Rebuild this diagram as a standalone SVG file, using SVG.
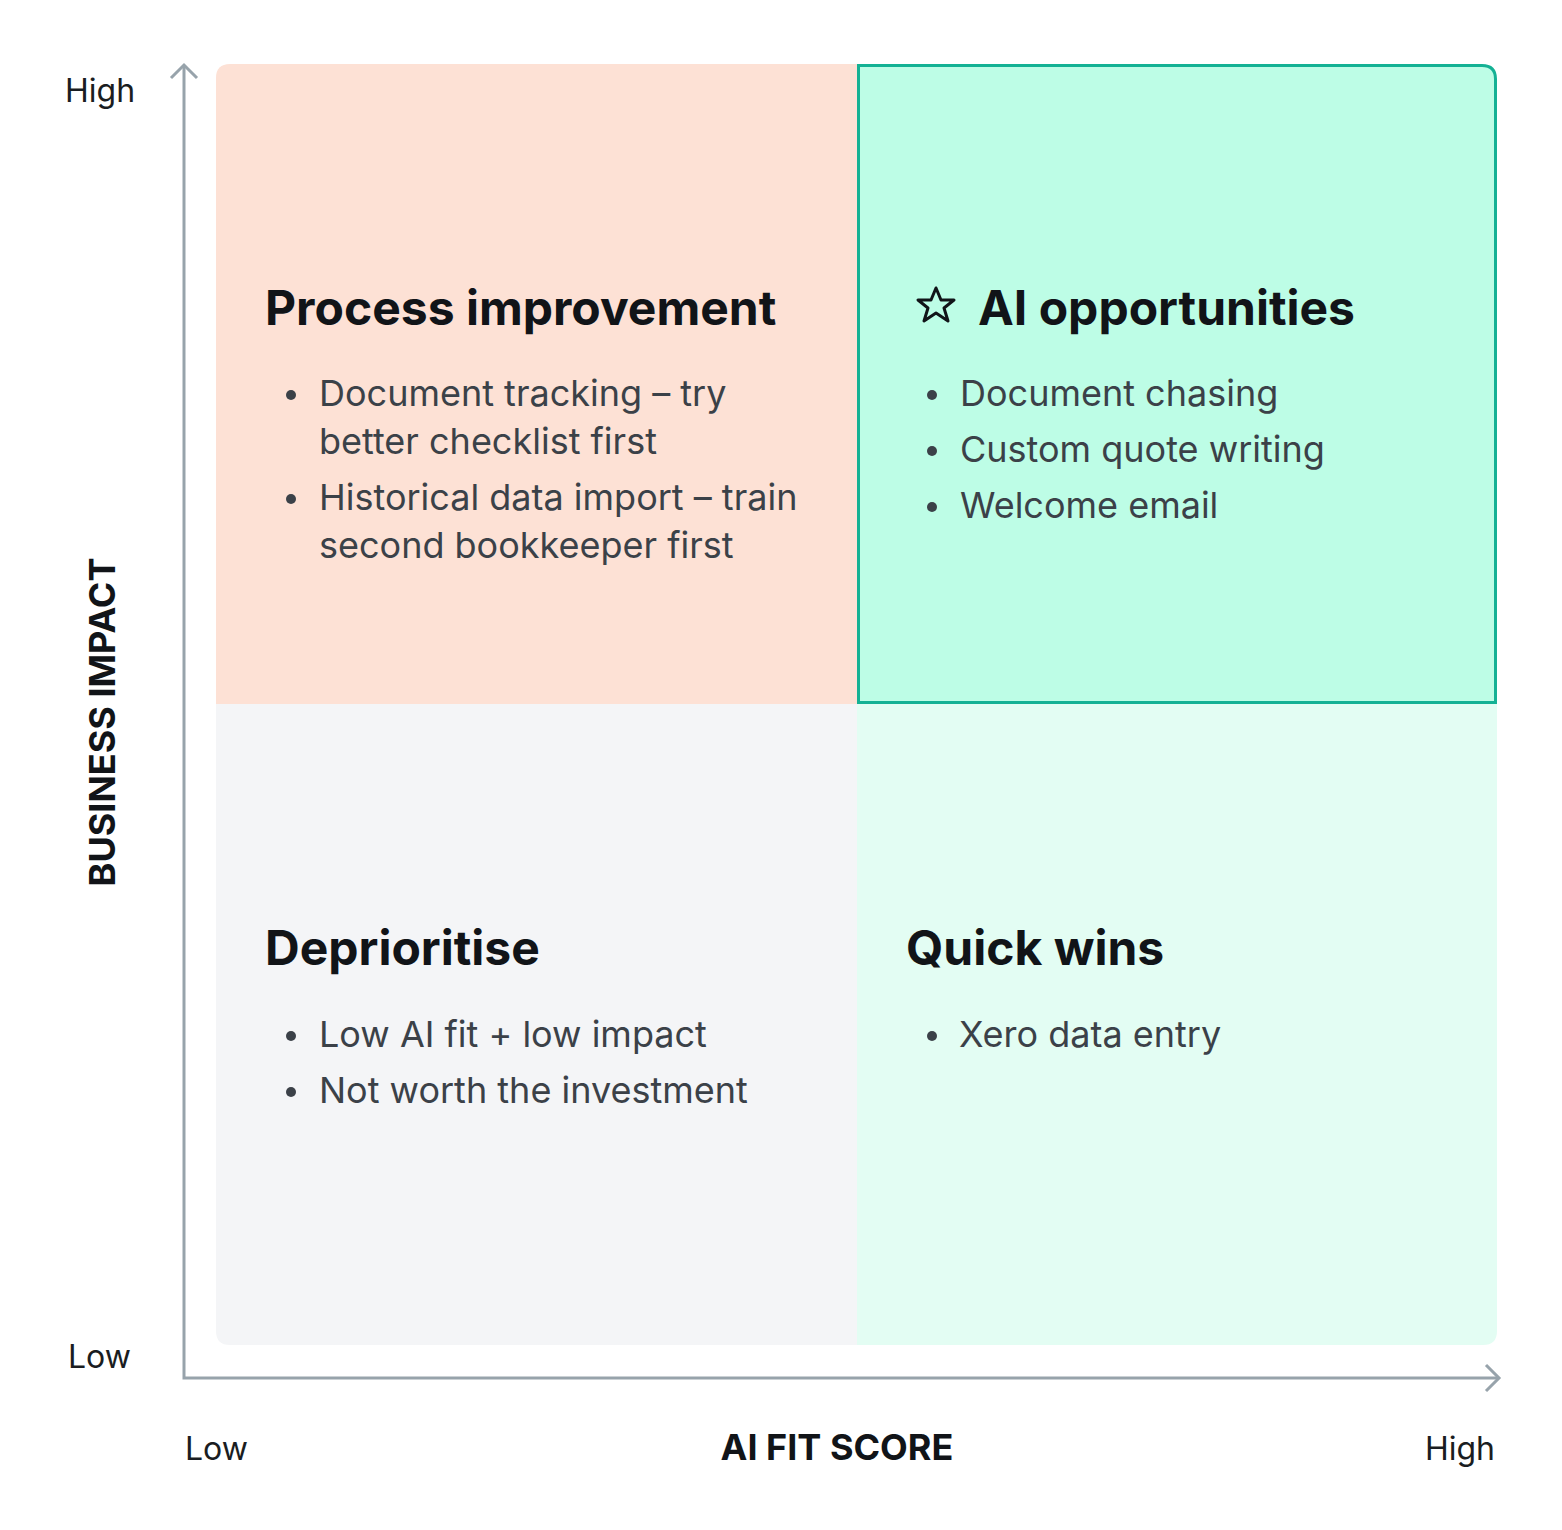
<svg xmlns="http://www.w3.org/2000/svg" width="1562" height="1530" viewBox="0 0 1562 1530">
<style>
.t{font-family:Inter,"Noto Sans",sans-serif;font-weight:700;font-size:48px;fill:#111418}
.b{font-family:Inter,"Noto Sans",sans-serif;font-size:36px;fill:#3b4148}
.a{font-family:Inter,"Noto Sans",sans-serif;font-size:32px;fill:#1a1d21}
.ab{font-family:Inter,"Noto Sans",sans-serif;font-size:36px;font-weight:700;fill:#111418}
.dot{fill:#3b4148}
.ax{stroke:#97a3ab;stroke-width:3;fill:none}
</style>
<rect width="1562" height="1530" fill="#fff"/>
<g id="q-process">
<path d="M230 64H857V704H216V78Q216 64 230 64Z" fill="#fde1d5"/>
<text class="t" x="265" y="325">Process improvement</text>
<circle class="dot" cx="291" cy="395" r="5"/><text class="b" x="319" y="406">Document tracking – try</text>
<text class="b" x="319" y="454">better checklist first</text>
<circle class="dot" cx="291" cy="499" r="5"/><text class="b" x="319" y="510">Historical data import – train</text>
<text class="b" x="319" y="558">second bookkeeper first</text>
</g>
<g id="q-ai">
<path d="M858.5 65.5H1482Q1495.5 65.5 1495.5 79V702.5H858.5Z" fill="#bdfde6" stroke="#14b194" stroke-width="3"/>
<path d="M936 288L941 300L954 300L944 308L948 321L936 313L924 321L928 308L918 300L931 300Z" fill="none" stroke="#111418" stroke-width="3" stroke-linejoin="round"/>
<text class="t" x="978" y="325">AI opportunities</text>
<circle class="dot" cx="932" cy="395" r="5"/><text class="b" x="960" y="406">Document chasing</text>
<circle class="dot" cx="932" cy="451" r="5"/><text class="b" x="960" y="462">Custom quote writing</text>
<circle class="dot" cx="932" cy="507" r="5"/><text class="b" x="960" y="518">Welcome email</text>
</g>
<g id="q-depri">
<path d="M216 704H857V1345H230Q216 1345 216 1331Z" fill="#f4f5f7"/>
<text class="t" x="265" y="965">Deprioritise</text>
<circle class="dot" cx="291" cy="1036" r="5"/><text class="b" x="319" y="1047">Low AI fit + low impact</text>
<circle class="dot" cx="291" cy="1092" r="5"/><text class="b" x="319" y="1103">Not worth the investment</text>
</g>
<g id="q-quick">
<path d="M857 704H1497V1331Q1497 1345 1483 1345H857Z" fill="#e3fdf3"/>
<text class="t" x="906" y="965">Quick wins</text>
<circle class="dot" cx="932" cy="1036" r="5"/><text class="b" x="959" y="1047">Xero data entry</text>
</g>
<g id="connectors">
<path class="ax" d="M184 66V1378H1498"/>
<path class="ax" d="M171 78L184 65L197 78"/>
<path class="ax" d="M1486 1365L1499 1378L1486 1391"/>
</g>
<g id="labels">
<text class="a" x="65" y="102">High</text>
<text class="a" x="68" y="1368">Low</text>
<text class="a" x="185" y="1460">Low</text>
<text class="a" x="1495" y="1460" text-anchor="end">High</text>
<text class="ab" x="837" y="1460" text-anchor="middle">AI FIT SCORE</text>
<text class="ab" transform="translate(115 722) rotate(-90)" text-anchor="middle">BUSINESS IMPACT</text>
</g>
</svg>
